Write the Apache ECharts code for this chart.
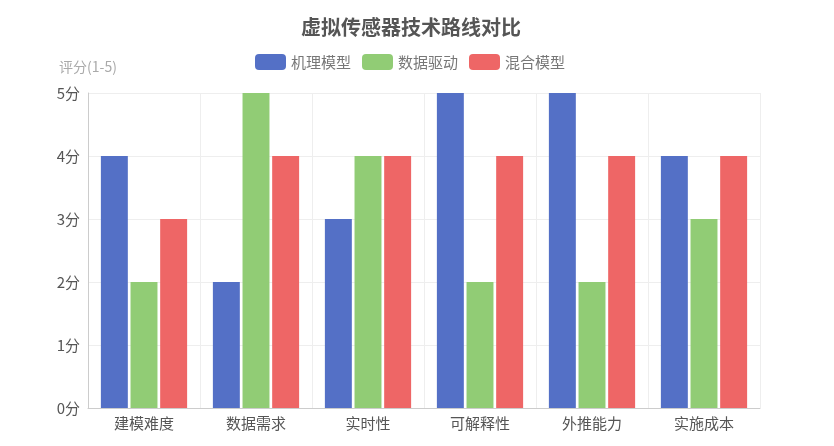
<!DOCTYPE html>
<html>
<head>
<meta charset="utf-8">
<script src="https://cdn.jsdelivr.net/npm/echarts@6/dist/echarts.min.js"></script>
<style>
  html, body { margin: 0; padding: 0; background: #fff; }
  #main { width: 834px; height: 446px; }
</style>
</head>
<body>
<div id="main"></div>
<script>
// 数据
var categories = ['建模难度', '数据需求', '实时性', '可解释性', '外推能力', '实施成本'];
var seriesNames = ['机理模型', '数据驱动', '混合模型'];
var mechValues = [4, 2, 3, 5, 5, 4];
var dataValues = [2, 5, 4, 2, 2, 3];
var hybridValues = [3, 4, 4, 4, 4, 4];
var colors = ['#5470c6', '#91cc75', '#ee6666'];

var myChart = echarts.init(document.getElementById('main'));
var font = '"Noto Sans CJK SC", "Microsoft YaHei", sans-serif';

myChart.setOption({
    color: colors,
    textStyle: { fontFamily: font },
    title: {
        text: '虚拟传感器技术路线对比',
        left: 296,
        top: 12,
        textStyle: { fontSize: 20, fontWeight: 'bold', color: '#555', fontFamily: font }
    },
    legend: {
        data: seriesNames,
        top: 49,
        left: 250,
        itemWidth: 31,
        itemHeight: 16,
        itemGap: 11,
        textStyle: { color: '#777', fontSize: 15, fontFamily: font }
    },
    grid: { left: 88, right: 74, top: 93, bottom: 38 },
    xAxis: {
        type: 'category',
        data: categories,
        axisTick: { show: false },
        axisLine: { lineStyle: { color: '#ccc' } },
        axisLabel: { color: '#555', fontSize: 15, margin: 8 },
        splitLine: { show: true, lineStyle: { color: '#eee' } }
    },
    yAxis: {
        type: 'value',
        name: '评分(1-5)',
        min: 0,
        max: 5,
        interval: 1,
        nameTextStyle: { color: '#aaa', fontSize: 14 },
        nameGap: 19,
        axisLine: { show: true, lineStyle: { color: '#ccc' } },
        axisLabel: { color: '#555', fontSize: 15, formatter: '{value}分' },
        splitLine: { lineStyle: { color: '#eee' } }
    },
    series: [
        { name: seriesNames[0], type: 'bar', data: mechValues, barGap: '10%', barCategoryGap: '23%' },
        { name: seriesNames[1], type: 'bar', data: dataValues, barGap: '10%', barCategoryGap: '23%' },
        { name: seriesNames[2], type: 'bar', data: hybridValues, barGap: '10%', barCategoryGap: '23%' }
    ]
});
</script>
</body>
</html>
